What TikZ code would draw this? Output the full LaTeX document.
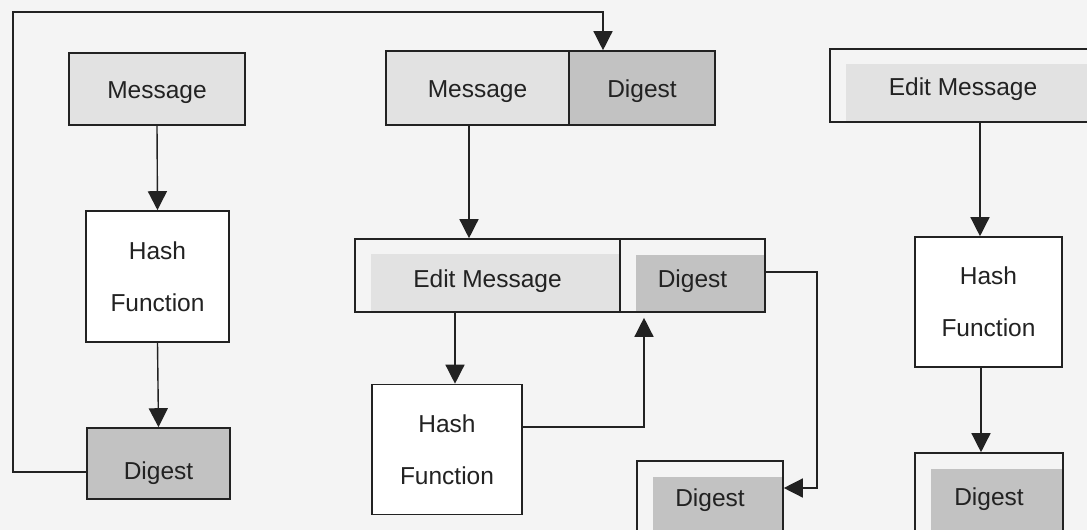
\documentclass[tikz,border=0pt]{standalone}
\usepackage{fontspec}
\setmainfont{Liberation Sans}
\usetikzlibrary{arrows.meta}
\definecolor{paper}{HTML}{F4F4F4}
\definecolor{lightshade}{HTML}{E2E2E2}
\definecolor{darkshade}{HTML}{C2C2C2}
\definecolor{ink}{HTML}{222222}
\tikzset{
  box/.style={draw=ink, line width=1.6pt, inner sep=0pt, text=ink,
    font=\fontsize{24.5}{52}\selectfont, align=center},
  % single-line label: fixes where its baseline sits inside the box
  line/.style={text height=#1, text depth=3pt},
  line/.default=22pt,
  plainbox/.style={box, fill=white},
  lightbox/.style={box, fill=lightshade},
  darkbox/.style={box, fill=darkshade},
  % box whose shading starts a little in from the top and left border
  insetlight/.style={box, fill=paper, path picture={
    \fill[lightshade] ([shift={(16pt,-15pt)}]path picture bounding box.north west)
      rectangle (path picture bounding box.south east);}},
  insetdark/.style={box, fill=paper, path picture={
    \fill[darkshade] ([shift={(16pt,-16pt)}]path picture bounding box.north west)
      rectangle (path picture bounding box.south east);}},
  arr/.style={draw=ink, line width=1.4pt, -{Triangle[width=19pt,length=19pt]}}
}
\begin{document}
\begin{tikzpicture}[x=1pt, y=-1pt]
\useasboundingbox (0,0) rectangle (1087,530);
\clip (0,0) rectangle (1087,530);
\fill[paper] (0,0) rectangle (1087,530);

% left column
\node[lightbox, line, minimum width=176pt, minimum height=72pt] (lm) at (157,89) {Message};
\node[plainbox, minimum width=143pt, minimum height=131pt] (lh) at (157.5,276.5) {Hash\\Function};
\node[darkbox, line=34pt, minimum width=143pt, minimum height=71pt] (ld) at (158.5,463.5) {Digest};

% middle column
\node[lightbox, line, minimum width=183pt, minimum height=74pt] (mm) at (477.5,88) {Message};
\node[darkbox, line, minimum width=146pt, minimum height=74pt] (md) at (642,88) {Digest};
\node[insetlight, line=26pt, minimum width=265pt, minimum height=73pt] (em) at (487.5,275.5) {Edit Message};
\node[insetdark, line=26pt, minimum width=145pt, minimum height=73pt] (ed) at (692.5,275.5) {Digest};
\node[plainbox, minimum width=150pt, minimum height=130pt] (mh) at (447,449.5) {Hash\\Function};
\node[insetdark, line, minimum width=146pt, minimum height=72pt] (mdg) at (710,497) {Digest};

% right column
\node[insetlight, line, minimum width=266pt, minimum height=73pt] (rm) at (963,85.5) {Edit Message};
\node[plainbox, minimum width=147pt, minimum height=130pt] (rh) at (988.5,302) {Hash\\Function};
\node[insetdark, line=28pt, minimum width=148pt, minimum height=80pt] (rd) at (989,493) {Digest};

% connectors, left column
\draw[arr] (lm.south) -- (lh.north);
\draw[arr] (lh.south) -- (ld.north);
\coordinate (loop) at (13,12);
\draw[arr] ([yshift=-8.5pt]ld.west) -| (loop) -| ([xshift=-39pt]md.north);

% connectors, middle column
\draw[arr] ([xshift=-8.5pt]mm.south) coordinate (p1) -- (p1 |- em.north);
\draw[arr] ([xshift=8pt]mh.north |- em.south) -- ([xshift=8pt]mh.north);
\draw[arr, shorten >=5pt] ([yshift=22.5pt]mh.east) -| ([xshift=-48.5pt]ed.south);
\coordinate (turn) at (817,488);
\draw[arr] ([yshift=3.5pt]ed.east) -| (turn) -- (turn -| mdg.east);

% connectors, right column
\draw[arr] ([xshift=-8.5pt]rh.north |- rm.south) -- ([xshift=-8.5pt]rh.north);
\draw[arr] ([xshift=-7.5pt]rh.south) -- ([xshift=-7.5pt]rh.south |- rd.north);
\end{tikzpicture}
\end{document}
